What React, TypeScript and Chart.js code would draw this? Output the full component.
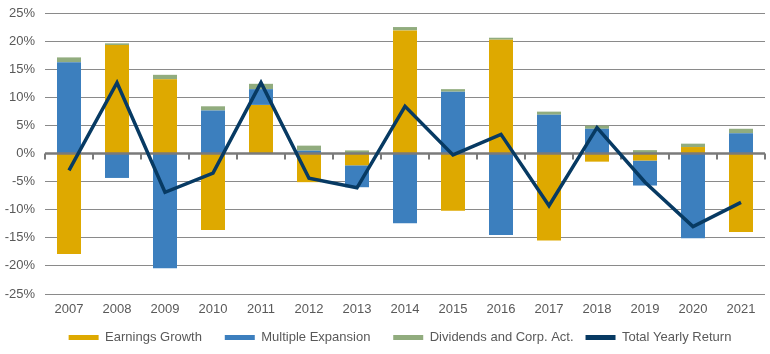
import React, { useEffect, useRef } from "react";
import { Chart, registerables } from "chart.js";

Chart.register(...registerables);

const years = ["2007", "2008", "2009", "2010", "2011", "2012", "2013", "2014", "2015", "2016", "2017", "2018", "2019", "2020", "2021"];
const earningsGrowth = [-17.9, 19.3, 13.2, -13.6, 8.65, -5.1, -2.1, 21.9, -10.2, 20.25, -15.5, -1.45, -1.25, 1.15, -13.95];
const multipleExpansion = [16.25, -4.35, -20.4, 7.65, 2.8, 0.5, -3.9, -12.4, 11.0, -14.5, 6.9, 4.4, -4.45, -15.1, 3.6];
const dividends = [0.85, 0.3, 0.8, 0.75, 0.95, 0.9, 0.55, 0.6, 0.45, 0.35, 0.55, 0.55, 0.6, 0.6, 0.8];
const totalReturn = [-3.0, 12.6, -6.9, -3.5, 12.6, -4.4, -6.1, 8.4, -0.25, 3.4, -9.3, 4.6, -5.1, -13.0, -8.7];

const FONT = "'Liberation Sans', Arial, sans-serif";
const TEXT = "#595959";

const zeroLinePlugin = {
  id: "zeroLine",
  afterLayout(chart: any) {
    if (chart.legend) chart.legend.left += 30;
  },
  beforeDatasetDraw(chart: any, args: any) {
    if (args.meta.type !== "line") return;
    const { ctx, chartArea, scales } = chart;
    const y = scales.y.getPixelForValue(0);
    const n = chart.data.labels.length;
    const step = (chartArea.right - chartArea.left) / n;
    ctx.save();
    ctx.strokeStyle = "#7a7a7a";
    ctx.lineWidth = 2.5;
    ctx.beginPath();
    ctx.moveTo(chartArea.left, y);
    ctx.lineTo(chartArea.right, y);
    ctx.stroke();
    ctx.lineWidth = 2;
    for (let i = 0; i <= n; i++) {
      const x = Math.round(chartArea.left + i * step);
      ctx.beginPath();
      ctx.moveTo(x, y);
      ctx.lineTo(x, y + 6);
      ctx.stroke();
    }
    ctx.restore();
  },
};

export default function App() {
  const ref = useRef<HTMLCanvasElement | null>(null);
  useEffect(() => {
    if (!ref.current) return;
    const chart = new Chart(ref.current, {
      type: "bar",
      data: {
        labels: years,
        datasets: [
          { type: "bar", label: "Earnings Growth", data: earningsGrowth, backgroundColor: "#DEA900", order: 1 },
          { type: "bar", label: "Multiple Expansion", data: multipleExpansion, backgroundColor: "#3C7FBE", order: 1 },
          { type: "bar", label: "Dividends and Corp. Act.", data: dividends, backgroundColor: "#91AC7E", order: 1 },
          {
            type: "line",
            label: "Total Yearly Return",
            data: totalReturn,
            borderColor: "#073A63",
            backgroundColor: "#073A63",
            borderWidth: 3.5,
            pointRadius: 0,
            tension: 0,
            order: 0,
          } as any,
        ],
      },
      options: {
        responsive: true,
        maintainAspectRatio: false,
        animation: false,
        layout: { padding: { top: 0, left: 5, right: 5, bottom: 0 } },
        datasets: { bar: { categoryPercentage: 1, barPercentage: 0.5 } },
        scales: {
          x: {
            stacked: true,
            grid: { display: false, drawTicks: false },
            border: { display: false },
            ticks: { color: TEXT, font: { family: FONT, size: 13 }, padding: 8, maxRotation: 0 },
            afterFit: (scale: any) => {
              scale.height = 25;
            },
          },
          y: {
            stacked: true,
            min: -25,
            max: 25,
            border: { display: false },
            grid: { color: "#8a8a8a", lineWidth: 1, drawTicks: false },
            ticks: {
              stepSize: 5,
              color: TEXT,
              padding: 10,
              font: { family: FONT, size: 13 },
              callback: (v: any) => v + "%",
            },
            afterFit: (scale: any) => {
              scale.width = 40;
              scale.paddingTop = 13;
            },
          },
        },
        plugins: {
          tooltip: { enabled: false },
          legend: {
            position: "bottom",
            labels: {
              color: TEXT,
              font: { family: FONT, size: 13 },
              boxWidth: 30,
              boxHeight: 5,
              padding: 12,
              sort: (a: any, b: any) => a.datasetIndex - b.datasetIndex,
              generateLabels: (c: any) => {
                const items = Chart.defaults.plugins.legend.labels.generateLabels(c);
                const n = items.length;
                return items.map((it: any) => {
                  const ds = c.data.datasets[it.datasetIndex];
                  const col = ds.type === "line" ? ds.borderColor : ds.backgroundColor;
                  const pad = it.datasetIndex >= n - 2 ? "" : "   ";
                  return { ...it, text: it.text + pad, fillStyle: col, strokeStyle: col, lineWidth: 0 };
                });
              },
            },
          },
        },
      },
      plugins: [zeroLinePlugin],
    } as any);
    return () => chart.destroy();
  }, []);
  return (
    <div style={{ position: "absolute", left: 0, top: 0, width: 770, height: 354, background: "#fff" }}>
      <canvas ref={ref} />
    </div>
  );
}
